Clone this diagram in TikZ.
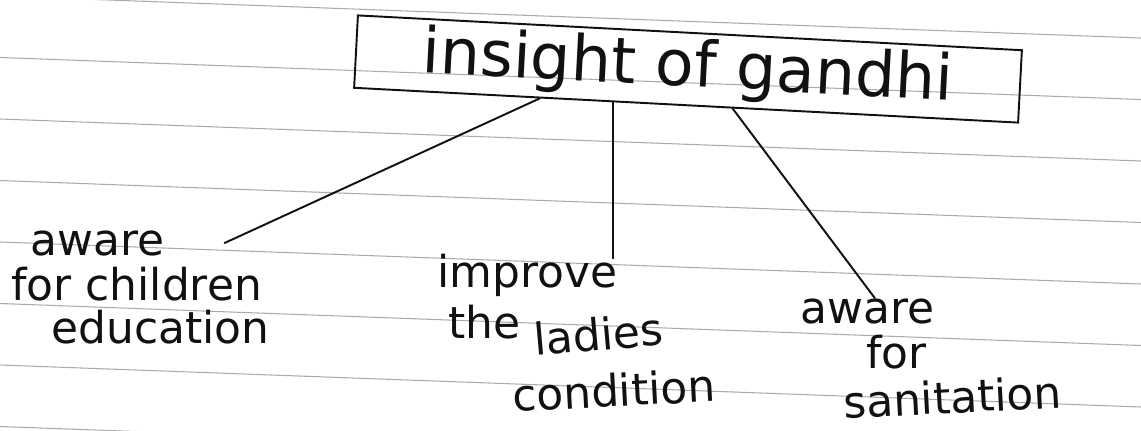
\documentclass[tikz,border=0pt]{standalone}
\usepackage{fontspec}
\setmainfont{DejaVu Sans}
\usetikzlibrary{calc}
\definecolor{ink}{HTML}{111111}
\definecolor{ruling}{HTML}{ABABAB}

\tikzset{
  pen/.style={ink, line width=1.1pt, line cap=round},
  word/.style={ink, anchor=base west, inner sep=0pt, font=\fontsize{25}{30}\selectfont},
}

\begin{document}
\begin{tikzpicture}[x=0.02cm, y=-0.02cm]
  \useasboundingbox (0,0) rectangle (1141,430);
  % ruled paper
  \foreach \k in {0,...,7} {
    \draw[ruling, line width=0.6pt] (0,-4+61.5*\k) -- (1141,38+61.5*\k);
  }
  % title box
  \node[pen, draw, rotate=-3, minimum width=13.3cm, minimum height=1.45cm,
        inner sep=0pt, font=\fontsize{36}{42}\selectfont] (title) at (688,69)
        {insight of gandhi};
  % branch points on the box
  \coordinate (s1) at ($(title.south west)!0.28!(title.south east)$);
  \coordinate (s2) at ($(title.south west)!0.39!(title.south east)$);
  \coordinate (s3) at ($(title.south west)!0.57!(title.south east)$);
  % left branch
  \node[word] (awareL) at (30,255) {aware};
  \node[word] (forL) at (11,300) {for children};
  \node[word] (eduL) at (51,343) {education};
  % middle branch
  \node[word] (improve) at (437,287) {improve};
  \node[word] (the) at (448,338) {the};
  \node[word, rotate=5] (ladies) at (535,356) {ladies};
  \node[word, rotate=3] (cond) at (513,412) {condition};
  % right branch
  \node[word] (awareR) at (800,323) {aware};
  \node[word] (forR) at (866,368) {for};
  \node[word, rotate=3] (sanit) at (844,419) {sanitation};
  % connectors
  \draw[pen] (s1) -- ([xshift=1.2cm]awareL.east);
  \draw[pen] (s2) -- ([yshift=-0.1cm]s2 |- improve.north);
  \draw[pen] (s3) -- (awareR.60);
\end{tikzpicture}
\end{document}
